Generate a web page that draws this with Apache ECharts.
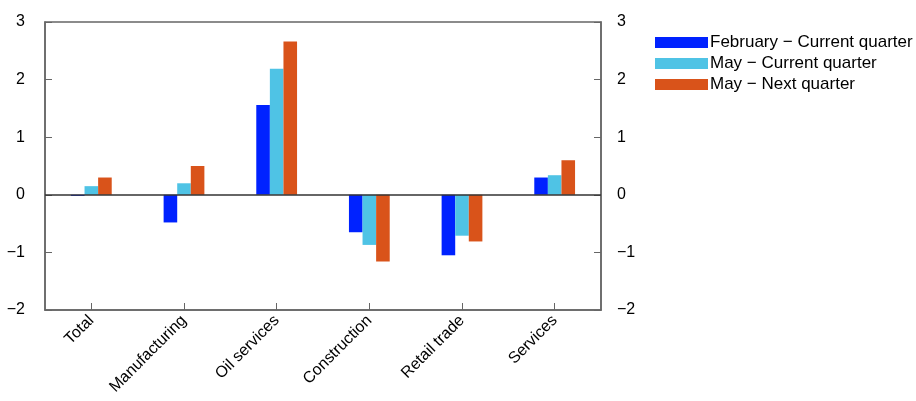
<!DOCTYPE html>
<html><head><meta charset="utf-8">
<script src="https://cdn.jsdelivr.net/npm/echarts@6/dist/echarts.min.js"></script>
<style>html,body{margin:0;padding:0;background:#fff}#c{width:916px;height:401px}</style>
</head><body><div id="c"></div>
<script>
const categories = ["Total","Manufacturing","Oil services","Construction","Retail trade","Services"];
const seriesNames = ["February \u2212 Current quarter","May \u2212 Current quarter","May \u2212 Next quarter"];
const febCurrent = [-0.02,-0.48,1.56,-0.65,-1.05,0.30];
const mayCurrent = [0.15,0.20,2.19,-0.87,-0.71,0.34];
const mayNext = [0.30,0.50,2.66,-1.16,-0.81,0.60];
const colors = ["#0022FF","#4FC3E5","#D9531A"];
const yTicks = {min:-2,max:3,interval:1};

const font = "Liberation Sans, Arial, Helvetica, sans-serif";
const fmt = v => String(v).replace('-', '\u2212');
const yAxisBase = (pos, margin) => ({
  type:'value', position:pos, min:yTicks.min, max:yTicks.max, interval:yTicks.interval,
  axisLine:{show:true,lineStyle:{color:'#666',width:1.5}},
  axisTick:{show:true,inside:true,length:7,lineStyle:{color:'#666'}},
  splitLine:{show:false},
  axisLabel:{formatter:fmt,color:'#000',fontSize:16,fontFamily:font,margin:margin}
});
const data = [febCurrent, mayCurrent, mayNext];
const chart = echarts.init(document.getElementById('c'));
chart.setOption({
  animation:false,
  textStyle:{fontFamily:font},
  grid:{left:45,right:315,top:22,bottom:91,show:true,borderColor:'#666',borderWidth:1.5},
  legend:{
    orient:'vertical', left:655, top:34, padding:0, itemWidth:53, itemHeight:11, itemGap:4,
    icon:'rect', textStyle:{fontSize:17,lineHeight:17,color:'#000',fontFamily:font,padding:[0,0,0,-3]},
    data:seriesNames
  },
  xAxis:{
    type:'category', data:categories,
    axisLine:{show:true,onZero:false,lineStyle:{color:'#666',width:1.5}},
    axisTick:{show:true,inside:true,alignWithLabel:true,length:7,lineStyle:{color:'#666'}},
    axisLabel:{rotate:45,color:'#000',fontSize:16,fontFamily:font,margin:8,interval:0}
  },
  yAxis:[yAxisBase('left',20), yAxisBase('right',16)],
  series: seriesNames.map((n,i)=>({
    name:n, type:'bar', data:data[i], barGap:'0%', barCategoryGap:'56%',
    itemStyle:{color:colors[i]},
    markLine: i===0 ? {silent:true,symbol:'none',label:{show:false},
      lineStyle:{color:'#333',width:1.5,type:'solid'},data:[{yAxis:0}]} : undefined
  }))
});
</script></body></html>
